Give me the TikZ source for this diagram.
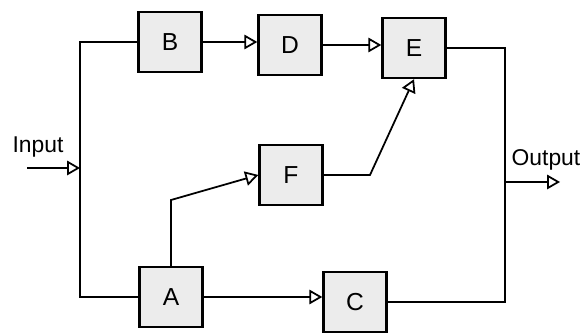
\documentclass[tikz,border=0pt]{standalone}
\usepackage{fontspec}
\setmainfont{Liberation Sans}
\usetikzlibrary{arrows}

\begin{document}
\begin{tikzpicture}[x=0.02cm, y=-0.02cm, >=open triangle 60]
\tikzset{
    block/.style={draw, line width=1.4pt, fill=gray!15,
        minimum width=1.26cm, minimum height=1.2cm,
        font=\fontsize{14}{16}\selectfont},
    wire/.style={line width=1pt},
    tag/.style={font=\fontsize{13}{15}\selectfont},
}
\useasboundingbox (0,0) rectangle (585,333);

  % blocks
  \node[block] (B) at (170,42) {B};
  \node[block] (D) at (290,45) {D};
  \node[block] (E) at (414,48) {E};
  \node[block] (F) at (291,175) {F};
  \node[block] (A) at (171,297) {A};
  \node[block] (C) at (355,302) {C};

  % labels
  \node[tag] (inTxt) at (38,147) {Input};
  \node[tag] (outTxt) at (546,160) {Output};

  % free ends and bends
  \coordinate (inStart) at (27,168);
  \coordinate (inBus) at (80,168);
  \coordinate (outBus) at (505,182);
  \coordinate (outEnd) at (560,182);
  \coordinate (fBend) at (370,175);
  \coordinate (aBend) at (171,200);

  % input side
  \draw[wire,->] (inStart) -- (inBus);
  \draw[wire] (B.west) -- (B.west -| inBus) -- (A.west -| inBus) -- (A.west);

  % forward paths
  \draw[wire,->] (B.east) -- (B.east -| D.west);
  \draw[wire,->] (D.east) -- (D.east -| E.west);
  \draw[wire,->] (A.east) -- (A.east -| C.west);
  \draw[wire,->] (A.north) -- (aBend) -- (F.west);
  \draw[wire,->] (F.east) -- (F.east -| fBend) -- (E.south);

  % output side
  \draw[wire] (E.east) -- (E.east -| outBus) -- (C.east -| outBus) -- (C.east);
  \draw[wire,->] (outBus) -- (outEnd);

\end{tikzpicture}
\end{document}
